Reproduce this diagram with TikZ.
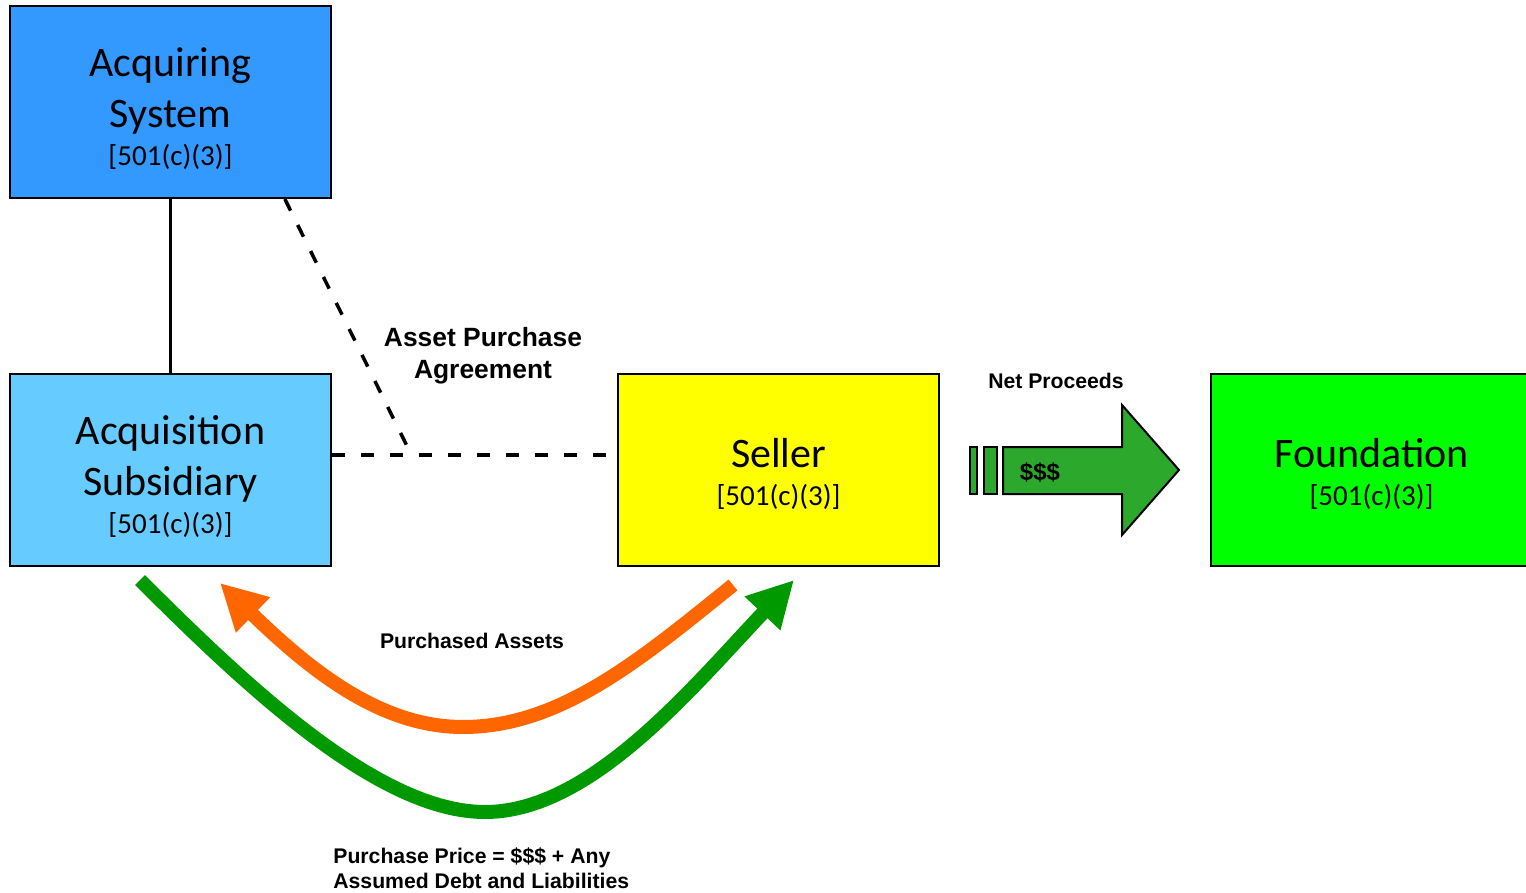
\documentclass[tikz,border=0pt]{standalone}
\usepackage{fontspec}
\setmainfont{Carlito}
\newfontfamily\labelfont{Liberation Sans}
\usetikzlibrary{arrows.meta, calc}

\definecolor{parentblue}{HTML}{3399FF}
\definecolor{subblue}{HTML}{66CCFF}
\definecolor{sellyellow}{HTML}{FFFF00}
\definecolor{foundgreen}{HTML}{00FF00}
\definecolor{cashgreen}{HTML}{2CA82C}
\definecolor{priceg}{HTML}{009900}
\definecolor{assetorange}{HTML}{FF6600}

\newcommand{\taxcode}{{\fontsize{14.5}{17}\selectfont [501(c)(3)]}}

\begin{document}
\begin{tikzpicture}[x=0.5pt, y=-0.5pt,
		entity/.style={draw=black, line width=1pt, minimum width=160.5pt, minimum height=96pt, inner sep=0pt},
		entitytext/.style={inner sep=0pt, align=center, font=\fontsize{21}{25.5}\selectfont},
		note/.style={font=\labelfont\bfseries\fontsize{10.6}{12.7}\selectfont, align=center},
		bignote/.style={font=\labelfont\bfseries\fontsize{13.2}{16}\selectfont, align=center},
		flow/.style={line width=7pt, -{Triangle[length=23pt, width=23pt]}},
		link/.style={line width=1.5pt},
		dashlink/.style={line width=1.75pt, dash pattern=on 6.5pt off 8pt}
		]
		\useasboundingbox (0,0) rectangle (1526,893);
		
		% ==========================================
		% Entities
		% ==========================================
		\node[entity, fill=parentblue] (acq) at (170.5,102) {};
		\node[entitytext] (acqtext) at ([yshift=-3.5pt]acq.center) {Acquiring\\System\\[-6.5pt]\taxcode};
		
		\node[entity, fill=subblue] (sub) at (170.5,470) {};
		\node[entitytext] (subtext) at ([yshift=-3pt]sub.center) {Acquisition\\Subsidiary\\[-6.5pt]\taxcode};
		
		\node[entity, fill=sellyellow] (seller) at (778.5,470) {};
		\node[entitytext] (sellertext) at ([yshift=-2pt]seller.center) {Seller\\[-6.5pt]\taxcode};
		
		\node[entity, fill=foundgreen] (found) at (1371.5,470) {};
		\node[entitytext] (foundtext) at ([yshift=-2pt]found.center) {Foundation\\[-6.5pt]\taxcode};
		
		% ==========================================
		% Ownership and the purchase agreement
		% ==========================================
		\draw[link] (acq) -- (sub);
		
		\coordinate (apa) at (408,455);
		\coordinate (apaend) at (408,448);
		\draw[dashlink] ($(acq.south west)!0.854!(acq.south east)$) -- (apaend);
		\draw[dashlink] (sub.east |- apa) -- (seller.west |- apa);
		\node[bignote] (apalabel) at (483,356) {Asset Purchase\\Agreement};
		
		% ==========================================
		% Assets one way, price the other
		% ==========================================
		\coordinate (assetsout) at (733,585);
		\coordinate (assetsin) at (220,583);
		\draw[flow, assetorange] (assetsout) .. controls (640,660) and (560,727) .. (463,727)
		.. controls (380,727) and (310,670) .. (assetsin);
		\node[note] (assetlabel) at (472,641) {Purchased Assets};
		
		\coordinate (priceout) at (140,580);
		\coordinate (pricein) at (794,580);
		\draw[flow, priceg] (priceout) .. controls (250,690) and (380,812) .. (485,812)
		.. controls (590,812) and (690,690) .. (pricein);
		\node[note, anchor=west, align=left, inner sep=0pt] (pricelabel) at (333,868)
		{Purchase Price = \$\$\$ + Any\\Assumed Debt and Liabilities};
		
		% ==========================================
		% Net proceeds to the foundation (striped arrow)
		% ==========================================
		\draw[fill=cashgreen, line width=1pt] (970,447) rectangle (977,494);
		\draw[fill=cashgreen, line width=1pt] (984,447) rectangle (997,494);
		\draw[fill=cashgreen, line width=1pt] (1003,447) -- (1122,447) -- (1122,405) -- (1179,470)
		-- (1122,535) -- (1122,494) -- (1003,494) -- cycle;
		\node[font=\labelfont\bfseries\fontsize{12}{14}\selectfont] (cash) at (1040,472) {\$\$\$};
		\node[note] (netlabel) at (1056,381) {Net Proceeds};
		
	\end{tikzpicture}
\end{document}
